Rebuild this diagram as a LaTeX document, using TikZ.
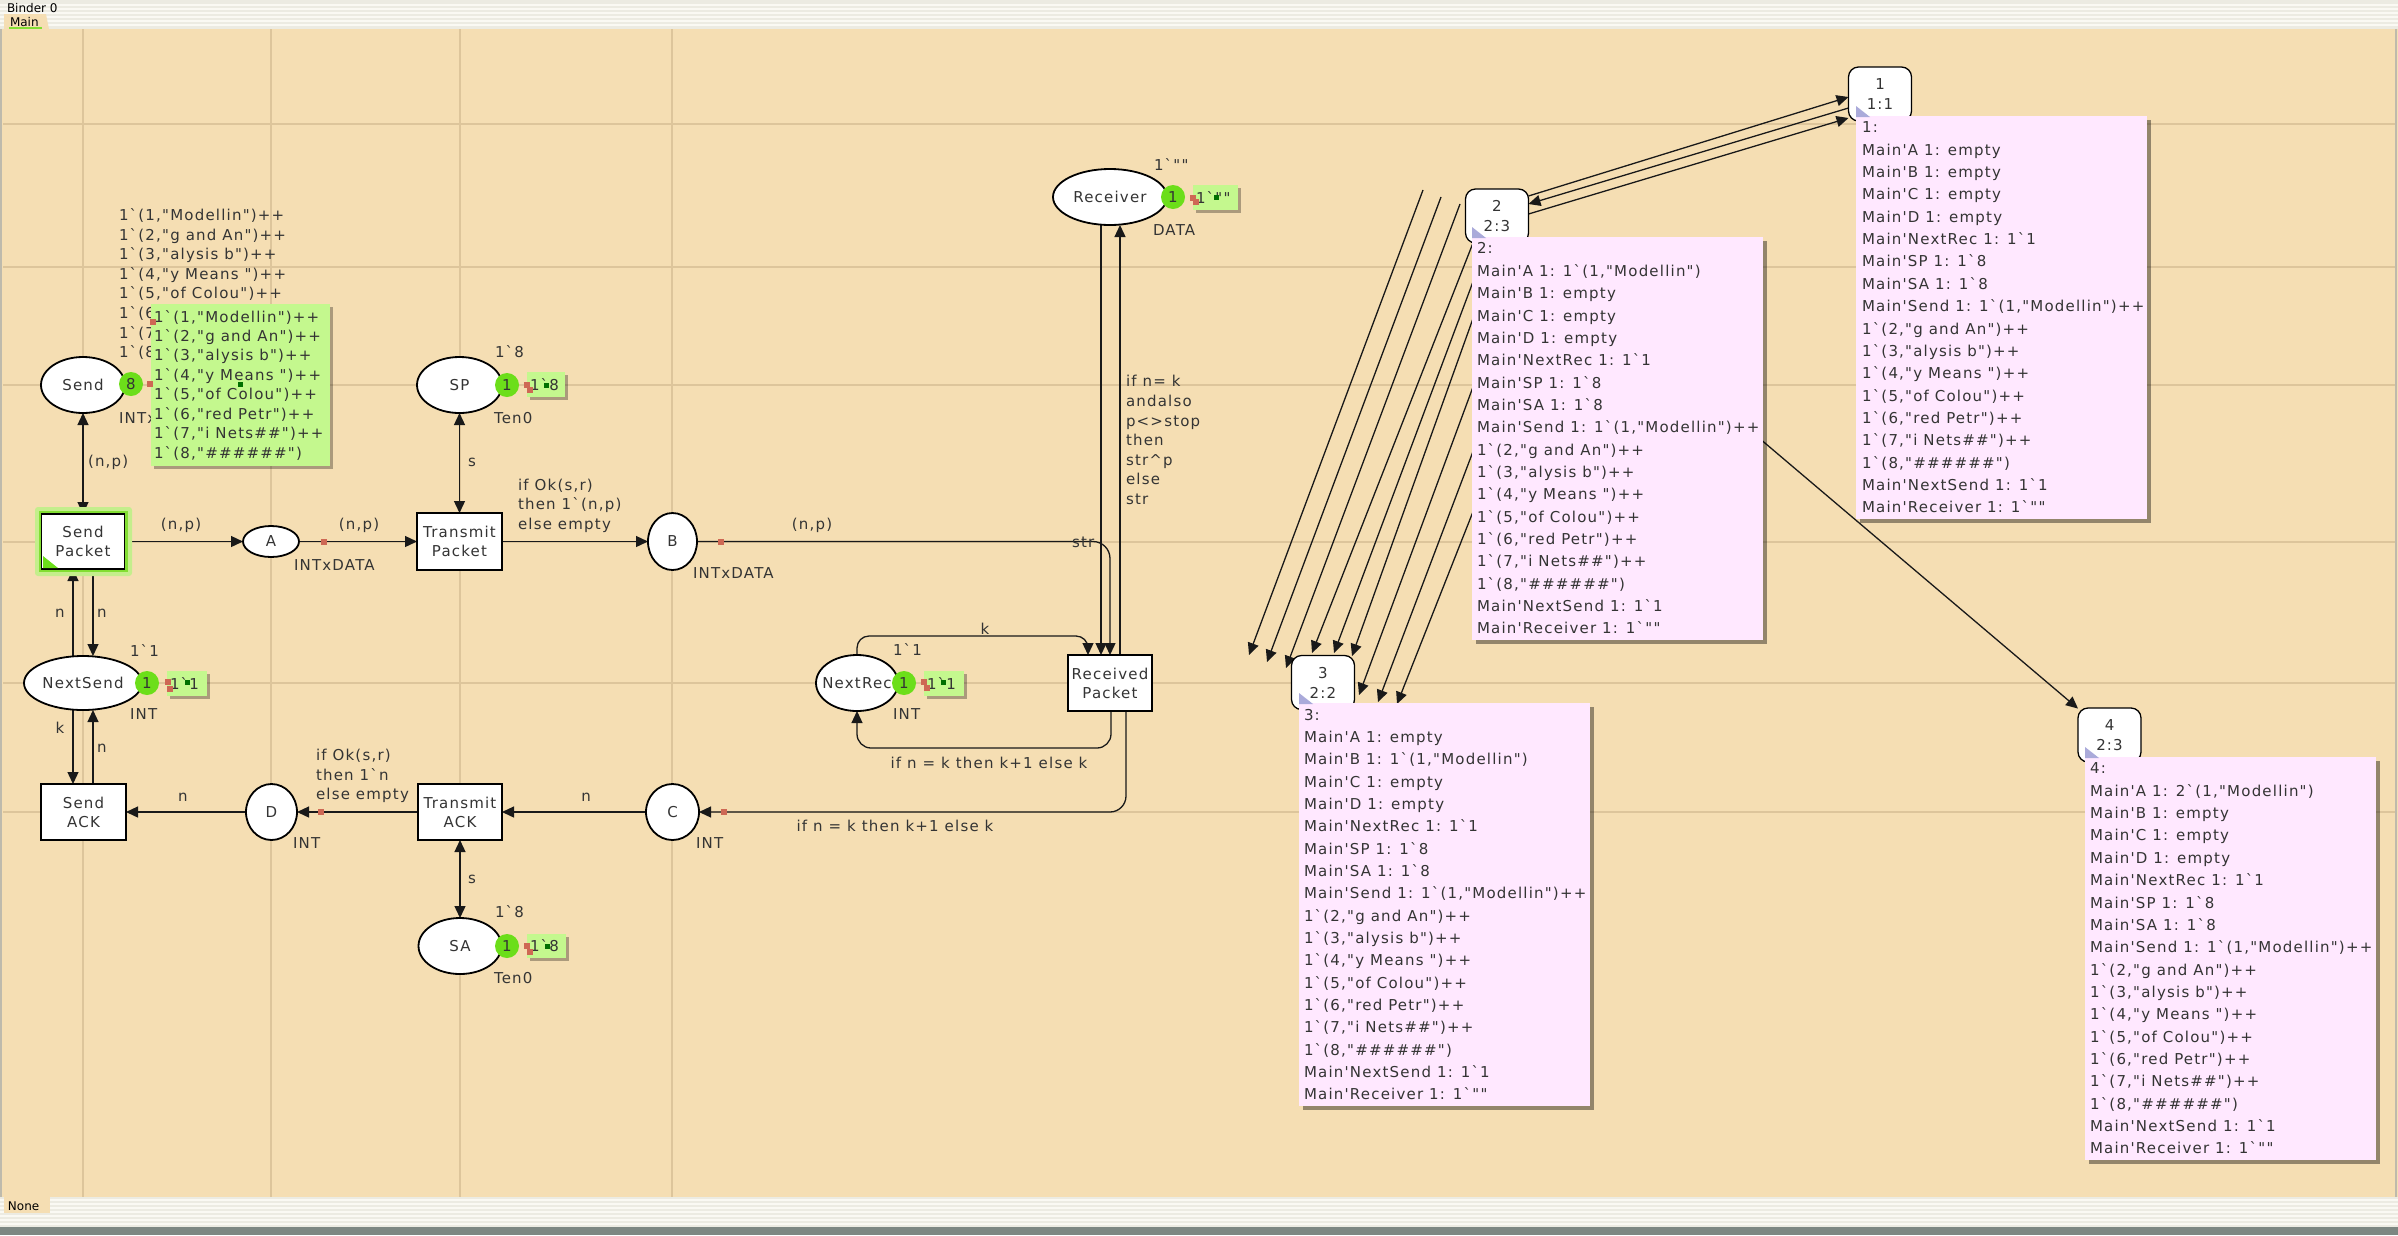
\documentclass[tikz,border=0pt]{standalone}
\usepackage{fontspec}
\usetikzlibrary{arrows.meta,shapes.geometric,shadows}
\pgfdeclarelayer{bottom}
\pgfdeclarelayer{edges}
\pgfsetlayers{bottom,edges,main}
\newfontfamily\cpnfont{DejaVu Sans}[LetterSpace=8]
\newfontfamily\uifont{DejaVu Sans}
\definecolor{canvas}{RGB}{245,222,179}
\definecolor{guide}{RGB}{221,197,155}
\definecolor{tokgreen}{RGB}{108,222,26}
\definecolor{markgreen}{RGB}{196,248,142}
\definecolor{handle}{RGB}{206,104,84}
\definecolor{dkgreen}{RGB}{0,112,0}
\definecolor{pinkbox}{RGB}{255,232,255}
\definecolor{ink}{RGB}{52,52,52}
\definecolor{arcc}{RGB}{25,25,25}
\definecolor{tricol}{RGB}{170,170,218}
\definecolor{barbg}{RGB}{236,235,226}
\definecolor{stripe}{RGB}{250,249,243}
\definecolor{glowout}{RGB}{196,238,140}
\definecolor{glowin}{RGB}{130,222,50}
\definecolor{edgegray}{RGB}{190,186,172}
\definecolor{shadowbar}{RGB}{125,135,130}
\newcommand\sendms{1`(1,"Modellin")++\\1`(2,"g and An")++\\1`(3,"alysis b")++\\1`(4,"y Means ")++\\1`(5,"of Colou")++\\1`(6,"red Petr")++\\1`(7,"i Nets\#\#")++\\1`(8,"\#\#\#\#\#\#")}
\newcommand\sttext[3]{#1:\\Main'A 1: #2\\Main'B 1: #3\\Main'C 1: empty\\Main'D 1: empty\\Main'NextRec 1: 1`1\\Main'SP 1: 1`8\\Main'SA 1: 1`8\\Main'Send 1: \sendms\\Main'NextSend 1: 1`1\\Main'Receiver 1: 1`""}
\begin{document}
\begin{tikzpicture}[x=1pt,y=-1pt,
  every node/.style={inner sep=0pt,outer sep=0pt,text=ink,font={\cpnfont\fontsize{15pt}{19.6pt}\selectfont}},
  plc/.style={ellipse,draw=black,line width=1.8pt,fill=white},
  trn/.style={rectangle,draw=black,line width=1.8pt,fill=white,align=center,font={\cpnfont\fontsize{15pt}{19pt}\selectfont}},
  tok/.style={circle,fill=tokgreen,minimum size=24pt},
  mkbox/.style={rectangle,fill=markgreen,anchor=north west,drop shadow={shadow xshift=3pt,shadow yshift=-3pt,opacity=0.3,fill=black}},
  lbl/.style={anchor=west,align=left},
  clbl/.style={anchor=center,align=center},
  hsq/.style={rectangle,fill=handle,minimum size=6pt},
  gsq/.style={rectangle,fill=dkgreen,minimum size=5pt},
  cn/.style={line width=1.3pt,draw=arcc},
  ah/.style={-{Triangle[length=12pt,width=11pt]}},
  ahh/.style={{Triangle[length=12pt,width=11pt]}-{Triangle[length=12pt,width=11pt]}},
  stnode/.style={rectangle,rounded corners=10pt,draw=black,line width=1.3pt,fill=white,align=center,minimum width=63pt,minimum height=54pt,font={\cpnfont\fontsize{15pt}{20pt}\selectfont}},
  stbox/.style={rectangle,fill=pinkbox,anchor=north west,minimum width=291pt,minimum height=403pt,drop shadow={shadow xshift=4pt,shadow yshift=-4pt,opacity=0.4,fill=black}},
  sttx/.style={anchor=west,align=left,font={\cpnfont\fontsize{15pt}{22.35pt}\selectfont}},
  guideline/.style={draw=guide,line width=1.2pt},
  uitext/.style={anchor=west,text=black,font={\uifont\fontsize{12pt}{12pt}\selectfont}}
]
\useasboundingbox (0,0) rectangle (2398,1235);
\begin{pgfonlayer}{bottom}
\fill[canvas] (0,0) rectangle (2398,1235);
% top bar
\fill[barbg] (0,0) rectangle (2398,29);
\foreach \yy in {5,9,...,27} \draw[stripe,line width=1.5pt] (0,\yy) -- (2398,\yy);
\fill[canvas] (4,29) -- (4,14) -- (46,14) -- (49,29) -- cycle;
% bottom bar
\fill[barbg] (0,1197) rectangle (2398,1227);
\foreach \yy in {1200,1204,...,1226} \draw[stripe,line width=1.5pt] (0,\yy) -- (2398,\yy);
\fill[canvas] (4,1197) rectangle (50,1213);
\fill[shadowbar] (0,1227) rectangle (2398,1235);
% side edges
\draw[edgegray,line width=2pt] (1,29) -- (1,1197);
\draw[edgegray,line width=2pt] (2396,29) -- (2396,1197);
% guidelines
\foreach \xx in {83,271,460,672} \draw[guideline] (\xx,29) -- (\xx,1197);
\foreach \yy in {124,267,385,542,683,812} \draw[guideline] (3,\yy) -- (2395,\yy);
\end{pgfonlayer}

\node[uitext] (binder) at (7,8) {Binder 0};
\node[uitext] (maintab) at (10,22) {Main};
\draw[color=glowin,line width=1.5pt] (9,28) -- (42,28);
\node[uitext] (nonetab) at (8,1206) {None};

% Send Packet glow
\fill[glowout,rounded corners=3pt] (35,507) rectangle (132,576);
\fill[glowin] (39,511) rectangle (128,572);

% places
\node[plc,minimum width=84pt,minimum height=56pt,label={center:Send}] (send) at (83,385) {};
\node[plc,minimum width=118pt,minimum height=54pt,label={center:NextSend}] (ns) at (83,683) {};
\node[plc,minimum width=56pt,minimum height=31pt,label={center:A}] (a) at (271,541.5) {};
\node[plc,minimum width=85pt,minimum height=56pt,label={center:SP}] (sp) at (459.5,385) {};
\node[plc,minimum width=49pt,minimum height=57pt,label={center:B}] (b) at (672.5,541.5) {};
\node[plc,minimum width=83pt,minimum height=56pt,label={center:SA}] (sa) at (460,946) {};
\node[plc,minimum width=51pt,minimum height=56pt,label={center:D}] (d) at (271.5,812) {};
\node[plc,minimum width=53pt,minimum height=56pt,label={center:C}] (c) at (672.5,812) {};
\node[plc,minimum width=82pt,minimum height=56pt,label={center:NextRec}] (nr) at (857,683) {};
\node[plc,minimum width=114pt,minimum height=56pt,label={center:Receiver}] (rec) at (1110,197) {};

% transitions
\node[trn,minimum width=83pt,minimum height=55pt] (spk) at (83,541.5) {Send\\Packet};
\fill[tokgreen] (43,556) -- (43,568) -- (58,568) -- cycle;
\node[trn,minimum width=85pt,minimum height=56pt] (sack) at (83.5,812) {Send\\ACK};
\node[trn,minimum width=85pt,minimum height=57pt] (tp) at (459.5,541.5) {Transmit\\Packet};
\node[trn,minimum width=84pt,minimum height=56pt] (ta) at (460,812) {Transmit\\ACK};
\node[trn,minimum width=84pt,minimum height=56pt] (rp) at (1110,683) {Received\\Packet};

% net arcs
\begin{pgfonlayer}{edges}
\draw[cn,ahh] (send) -- (spk);
\draw[cn,ah] (spk) -- (a);
\draw[cn,ah] (a) -- (tp);
\draw[cn,ahh] (sp) -- (tp);
\draw[cn,ah] (tp) -- (b);
\draw[cn,ah,rounded corners=17pt] (b.east) -| (rp.north);
\draw[cn,ah] ([xshift=-9pt]rec.south) -- ([xshift=-9pt]rp.north);
\draw[cn,ah] ([xshift=10pt]rp.north) -- ([xshift=10pt]rec.south);
\draw[cn,ah,rounded corners=12pt] (nr.north) -- ++(0,-19) -| ([xshift=-22pt]rp.north);
\draw[cn,ah,rounded corners=14pt] ([xshift=1pt]rp.south) -- ++(0,37) -| (nr.south);
\draw[cn,ah,rounded corners=16pt] ([xshift=16pt]rp.south) |- (c.east);
\draw[cn,ah] (c) -- (ta);
\draw[cn,ahh] (ta) -- (sa);
\draw[cn,ah] (ta) -- (d);
\draw[cn,ah] (d) -- (sack);
\draw[cn,ah] ([xshift=-10pt]ns.north) -- ([xshift=-10pt]spk.south);
\draw[cn,ah] ([xshift=10pt]spk.south) -- ([xshift=10pt]ns.north);
\draw[cn,ah] ([xshift=-10pt]ns.south) -- ([xshift=-10.5pt]sack.north);
\draw[cn,ah] ([xshift=9.5pt]sack.north) -- ([xshift=10pt]ns.south);
\end{pgfonlayer}

% arc inscription handles
\node[hsq] (h1) at (324,542) {};
\node[hsq] (h2) at (721,542) {};
\node[hsq] (h3) at (724,812) {};
\node[hsq] (h4) at (321,812) {};

% initial markings and colour sets
\node[lbl] (imsend) at (119,284) {\sendms};
\node[lbl] (cssend) at (119,418) {INTxDATA};
\node[lbl] (imns) at (130,650) {1`1};
\node[lbl] (csns) at (130,714) {INT};
\node[lbl] (csa) at (294,565) {INTxDATA};
\node[lbl] (imsp) at (495,352) {1`8};
\node[lbl] (cssp) at (494,418) {Ten0};
\node[lbl] (csb) at (693,573) {INTxDATA};
\node[lbl] (imsa) at (495,912) {1`8};
\node[lbl] (cssa) at (494,978) {Ten0};
\node[lbl] (csd) at (293,843) {INT};
\node[lbl] (csc) at (696,843) {INT};
\node[lbl] (imnr) at (893,649) {1`1};
\node[lbl] (csnr) at (893,714) {INT};
\node[lbl] (imrec) at (1154,164) {1`""};
\node[lbl] (csrec) at (1153,230) {DATA};

% arc labels
\node[lbl] (l1) at (88,462) {(n,p)};
\node[clbl] (l2) at (181,525) {(n,p)};
\node[clbl] (l3) at (359,525) {(n,p)};
\node[lbl] (l4) at (468,462) {s};
\node[lbl] (l5) at (518,505.5) {if Ok(s,r)\\then 1`(n,p)\\else empty};
\node[clbl] (l6) at (812,525) {(n,p)};
\node[lbl] (l7) at (1072,542) {str};
\node[lbl] (l8) at (1126,440) {if n= k\\andalso\\p<>stop\\then\\str\textasciicircum p\\else\\str};
\node[clbl] (l9) at (985,629) {k};
\node[clbl] (l10) at (989,763) {if n = k then k+1 else k};
\node[clbl] (l11) at (895,826) {if n = k then k+1 else k};
\node[clbl] (l12) at (586,797) {n};
\node[lbl] (l13) at (468,879) {s};
\node[lbl] (l14) at (316,776) {if Ok(s,r)\\then 1`n\\else empty};
\node[clbl] (l15) at (183,797) {n};
\node[clbl] (l16) at (60,613) {n};
\node[clbl] (l17) at (102,613) {n};
\node[clbl] (l18) at (60,728) {k};
\node[clbl] (l19) at (102,748) {n};

% tokens
\node[tok] (tsend) at (131,384) {8};
\node[tok] (tns) at (147,683) {1};
\node[tok] (tsp) at (507,385) {1};
\node[tok] (tsa) at (507,946) {1};
\node[tok] (tnr) at (904,683) {1};
\node[tok] (trec) at (1173,197) {1};

% current markings
\node[mkbox,minimum width=179pt,minimum height=162pt] (msend) at (151,304) {};
\node[lbl,font={\cpnfont\fontsize{15pt}{19.43pt}\selectfont}] (msendt) at (154,385) {\sendms};
\node[hsq] at (153,322) {}; \node[hsq] at (150,384) {}; \node[gsq] at (240,384) {};
\node[mkbox,minimum width=40pt,minimum height=25pt] (mns) at (167,671) {};
\node[lbl] (mnst) at (170,683.5) {1`1};
\node[hsq] at (168,682) {}; \node[hsq] at (170,689) {}; \node[gsq] at (187,682) {};
\node[mkbox,minimum width=38pt,minimum height=25pt] (msp) at (527,372) {};
\node[lbl] (mspt) at (530,385) {1`8};
\node[hsq] at (527,385) {}; \node[hsq] at (530,390) {}; \node[gsq] at (546,385) {};
\node[mkbox,minimum width=39pt,minimum height=24pt] (msa) at (527,934) {};
\node[lbl] (msat) at (530,946) {1`8};
\node[hsq] at (527,946) {}; \node[hsq] at (530,952) {}; \node[gsq] at (547,946) {};
\node[mkbox,minimum width=40pt,minimum height=25pt] (mnr) at (924,671) {};
\node[lbl] (mnrt) at (927,683.5) {1`1};
\node[hsq] at (924,682) {}; \node[hsq] at (927,688) {}; \node[gsq] at (943,682) {};
\node[mkbox,minimum width=45pt,minimum height=25pt] (mrec) at (1193,185) {};
\node[lbl] (mrect) at (1196,197.5) {1`""};
\node[hsq] at (1193,198) {}; \node[hsq] at (1196,202) {}; \node[gsq] at (1216,197) {};

% state space graph
\node[stnode] (n1) at (1880,94) {1\\1:1};
\node[stnode] (n2) at (1497,216) {2\\2:3};
\node[stnode] (n3) at (1323,682.5) {3\\2:2};
\node[stnode] (n4) at (2109.5,735) {4\\2:3};

\coordinate (s1) at (1423,190); \coordinate (e1) at (1249,655);
\coordinate (s2) at (1441,197); \coordinate (e2) at (1267,662);
\coordinate (s3) at (1460,204); \coordinate (e3) at (1286,668);
\coordinate (s4) at (1482,220); \coordinate (e4) at (1312,653);
\coordinate (s5) at (1480,263); \coordinate (e5) at (1334,653);
\coordinate (s6) at (1480,299); \coordinate (e6) at (1352,656);
\coordinate (s7) at (1480,368); \coordinate (e7) at (1359,695);
\coordinate (s8) at (1480,433); \coordinate (e8) at (1378,702);
\coordinate (s9) at (1480,494); \coordinate (e9) at (1397,704);

\begin{pgfonlayer}{edges}
\draw[cn,ah] ([yshift=20pt]n2.east) -- ([yshift=-3pt]n1.west);
\draw[cn,ah] ([yshift=-14pt]n1.west) -- ([yshift=12pt]n2.east);
\draw[cn,ah] ([yshift=2pt]n2.east) -- ([yshift=-24pt]n1.west);
\draw[cn,ah] (n2) -- (n4);
\foreach \i in {1,...,9} \draw[cn,ah] (s\i) -- (e\i);
\end{pgfonlayer}

\node[stbox] (b1) at (1856,116) {};
\node[sttx] (b1t) at ([xshift=6pt]b1.west) {\sttext{1}{empty}{empty}};
\node[stbox] (b2) at (1472,237) {};
\node[sttx] (b2t) at ([xshift=5pt]b2.west) {\sttext{2}{1`(1,"Modellin")}{empty}};
\node[stbox] (b3) at (1299,703) {};
\node[sttx] (b3t) at ([xshift=5pt]b3.west) {\sttext{3}{empty}{1`(1,"Modellin")}};
\node[stbox] (b4) at (2085,757) {};
\node[sttx] (b4t) at ([xshift=5pt]b4.west) {\sttext{4}{2`(1,"Modellin")}{empty}};

\fill[tricol] (1856,106) -- (1856,117) -- (1870,117) -- cycle;
\fill[tricol] (1472,227) -- (1472,238) -- (1486,238) -- cycle;
\fill[tricol] (1299,693) -- (1299,704) -- (1313,704) -- cycle;
\fill[tricol] (2085,747) -- (2085,758) -- (2099,758) -- cycle;
\end{tikzpicture}
\end{document}
